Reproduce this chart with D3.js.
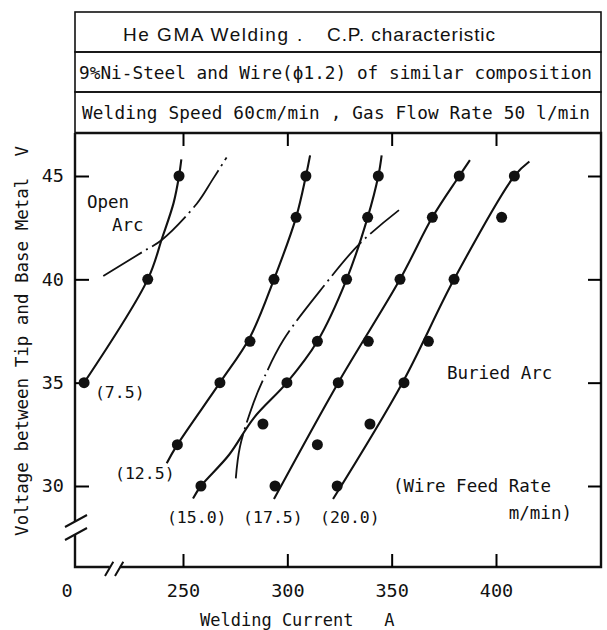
<!DOCTYPE html>
<html>
<head>
<meta charset="utf-8">
<script src="https://cdn.jsdelivr.net/npm/d3@7"></script>
<style>
  body { margin: 0; background: #fff; }
  svg text { font-family: "DejaVu Sans Mono", monospace; fill: #111; white-space: pre; }
</style>
</head>
<body>
<div id="chart"></div>
<script>
var svgWidth = 607;
var svgHeight = 630;

// tick values
var xTicks = [250, 300, 350, 400];
var yTicks = [30, 35, 40, 45];

// wire feed rate labels (m/min)
var feedRates = ["(7.5)", "(12.5)", "(15.0)", "(17.5)", "(20.0)"];

// measured points  [welding current A, voltage V]
var dots75  = [[202.6, 35], [233.1, 40], [248.1, 45]];
var dots125 = [[247.3, 32], [267.7, 35], [282.1, 37], [293.6, 40], [304.2, 43], [308.9, 45]];
var dots150 = [[258.6, 30], [288.3, 33], [299.8, 35], [314.4, 37], [328.4, 40], [338.5, 43], [343.6, 45]];
var dots175 = [[294.1, 30], [314.4, 32], [324.4, 35], [338.8, 37], [354.0, 40], [369.5, 43], [382.4, 45]];
var dots200 = [[323.9, 30], [339.6, 33], [355.9, 35], [367.6, 37], [379.9, 40], [402.7, 43], [408.8, 45]];

// hand drawn curves through the points
var curve75  = [[202.6, 35], [233.1, 40], [240, 42], [245.5, 43.7], [248.1, 45], [249.2, 45.8]];
var curve125 = [[242.2, 31.1], [247.3, 32], [267.7, 35], [282.1, 37.2], [293.6, 40], [304.2, 43], [308.9, 45], [310.9, 46]];
var curve150 = [[254.8, 29.4], [258.6, 30], [272, 31.5], [284, 33.3], [299.8, 35], [314.4, 37], [328.4, 40], [338.5, 43], [343.6, 45], [345.2, 46]];
var curve175 = [[293.6, 29.37], [324.4, 35], [354.0, 40], [369.5, 43], [382.4, 45], [387.5, 45.77]];
var curve200 = [[321.9, 29.37], [355.2, 35], [379.9, 40], [408.8, 45], [416, 45.7]];

// chain lines: open arc / buried arc boundaries
var openArcLine   = [[211.8, 40.16], [231, 41.35], [239.8, 41.9], [256.6, 43.66], [264, 44.8], [270.9, 45.9]];
var buriedArcLine = [[275.3, 30.37], [277.3, 31.9], [283.7, 34], [288.5, 35.16], [298.1, 37.06], [317.2, 39.64], [334.8, 41.74], [353.5, 43.35]];

// header lines
var title1a = "He GMA Welding";
var title1b = "C.P. characteristic";
var title2 = "9%Ni-Steel and Wire(\u03d51.2) of similar composition";
var title3 = "Welding Speed 60cm/min , Gas Flow Rate 50 l/min";

var plotLeft = 75, plotRight = 601, plotTop = 133, plotBottom = 567;

var svg = d3.select("#chart")
  .append("svg")
  .attr("width", svgWidth)
  .attr("height", svgHeight);

var x = d3.scaleLinear().domain([250, 400]).range([183, 496]);
var y = d3.scaleLinear().domain([30, 45]).range([486, 176]);

// header boxes
var rows = [[12, 52], [52, 92], [92, plotTop]];
svg.selectAll("rect.hdr").data(rows).enter()
  .append("rect")
  .attr("class", "hdr")
  .attr("x", plotLeft)
  .attr("y", d => d[0])
  .attr("width", plotRight - plotLeft)
  .attr("height", d => d[1] - d[0])
  .attr("fill", "none")
  .attr("stroke", "#111")
  .attr("stroke-width", 1.6);

var sans = "'Liberation Sans', Arial, sans-serif";
svg.append("text").attr("x", 123).attr("y", 40.5)
  .style("font-family", sans)
  .attr("font-size", 19).attr("textLength", 165).attr("lengthAdjust", "spacing")
  .text(title1a);
svg.append("text").attr("x", 297).attr("y", 40.5)
  .style("font-family", sans)
  .attr("font-size", 19)
  .text(".");
svg.append("text").attr("x", 327).attr("y", 40.5)
  .style("font-family", sans)
  .attr("font-size", 19).attr("textLength", 168).attr("lengthAdjust", "spacing")
  .text(title1b);
svg.append("text").attr("x", 79).attr("y", 79)
  .attr("font-size", 17.7).attr("textLength", 513).attr("lengthAdjust", "spacing")
  .text(title2);
svg.append("text").attr("x", 82).attr("y", 119)
  .attr("font-size", 17.7).attr("textLength", 508).attr("lengthAdjust", "spacing")
  .text(title3);

// frame with axis breaks
var frame = svg.append("g").attr("stroke", "#111").attr("fill", "none");
frame.append("path").attr("stroke-width", 2.4)
  .attr("d", `M${plotLeft},${plotTop}V521.5 M${plotLeft},534.5V${plotBottom}H109.8 M119.8,${plotBottom}H${plotRight}V${plotTop}H${plotLeft}`);
// break marks
frame.append("path").attr("stroke-width", 2)
  .attr("d", "M65,527L87,515 M65,540L87,528 M105,576L113.3,561.7 M115,576L123.3,561.7");

// axes (ticks point inside)
function styleAxis(g) {
  g.select(".domain").remove();
  g.attr("font-family", null).attr("font-size", null);
  g.selectAll("line").attr("stroke-width", 2);
}

svg.append("g")
  .attr("transform", `translate(${plotLeft},0)`)
  .call(d3.axisLeft(y).tickValues(yTicks).tickSize(-14).tickPadding(11))
  .call(styleAxis)
  .selectAll("text").attr("font-size", 18.5);

svg.append("g")
  .attr("transform", `translate(0,${plotBottom})`)
  .call(d3.axisBottom(x).tickValues(xTicks).tickSize(-13).tickPadding(17))
  .call(styleAxis)
  .selectAll("text").attr("font-size", 18.5);

svg.append("g")
  .attr("transform", `translate(0,${plotTop})`)
  .call(d3.axisTop(x).tickValues(xTicks).tickSize(-13).tickFormat(""))
  .call(styleAxis);

svg.append("g")
  .attr("transform", `translate(${plotRight},0)`)
  .call(d3.axisRight(y).tickValues(yTicks).tickSize(-13).tickFormat(""))
  .call(styleAxis);

// origin label
svg.append("text").attr("x", 67).attr("y", 597)
  .attr("text-anchor", "middle").attr("font-size", 18.5).text("0");

// axis titles
svg.append("text")
  .attr("transform", "translate(28,341) rotate(-90)")
  .attr("text-anchor", "middle")
  .attr("font-size", 17.5)
  .text("Voltage between Tip and Base Metal  V");

svg.append("text")
  .attr("x", 200).attr("y", 626)
  .attr("font-size", 17)
  .text("Welding Current   A");

// curves
var line = d3.line()
  .x(d => x(d[0]))
  .y(d => y(d[1]))
  .curve(d3.curveCatmullRom.alpha(0.5));

var curves = [curve75, curve125, curve150, curve175, curve200];
svg.append("g").selectAll("path").data(curves).enter()
  .append("path")
  .attr("d", line)
  .attr("fill", "none")
  .attr("stroke", "#111")
  .attr("stroke-width", 2.1);

svg.append("g").selectAll("path").data([openArcLine, buriedArcLine]).enter()
  .append("path")
  .attr("d", line)
  .attr("fill", "none")
  .attr("stroke", "#111")
  .attr("stroke-width", 1.8)
  .attr("stroke-dasharray", "45,5,2,5");

// dots
var allDots = [].concat(dots75, dots125, dots150, dots175, dots200);
svg.append("g").selectAll("circle").data(allDots).enter()
  .append("circle")
  .attr("cx", d => x(d[0]))
  .attr("cy", d => y(d[1]))
  .attr("r", 5.5)
  .attr("fill", "#111");

// feed rate labels, anchored in data units
var labelPos = [[207.8, 34.55], [217.4, 30.63], [242.3, 28.5], [278.8, 28.5], [315.7, 28.5]];
svg.append("g").selectAll("text").data(feedRates).enter()
  .append("text")
  .attr("x", (d, i) => x(labelPos[i][0]))
  .attr("y", (d, i) => y(labelPos[i][1]))
  .attr("dy", "0.35em")
  .attr("font-size", 16.5)
  .text(d => d);

// region notes
function note(txt, a, v, anchor) {
  svg.append("text")
    .attr("x", x(a)).attr("y", y(v))
    .attr("dy", "0.35em")
    .attr("text-anchor", anchor || "start")
    .attr("font-size", 17.5)
    .text(txt);
}
note("Open", 204, 43.75);
note("Arc", 216, 42.63);
note("Buried Arc", 376.5, 35.47);
note("(Wire Feed Rate", 350.6, 30);
note("m/min)", 436.4, 28.7, "end");
</script>
</body>
</html>
